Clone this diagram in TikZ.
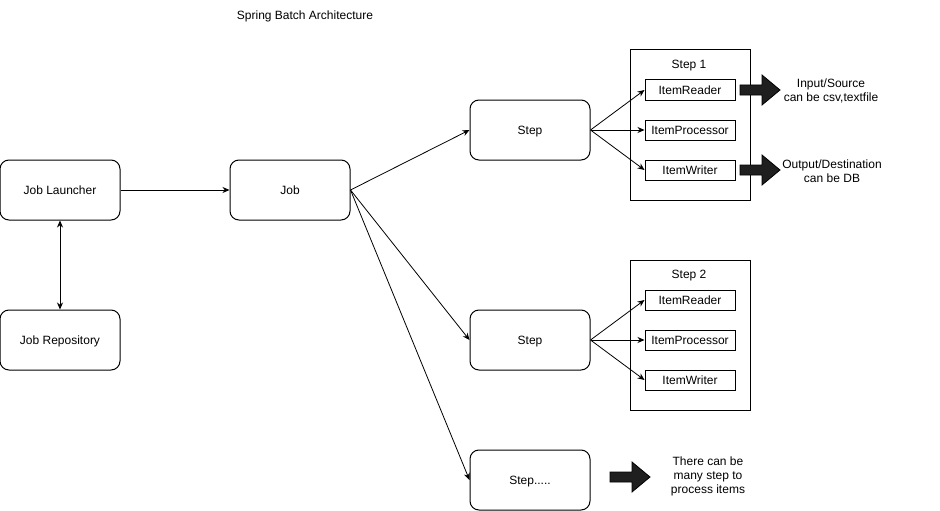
\documentclass[tikz,border=0pt]{standalone}
\usepackage{fontspec}
\setmainfont{Liberation Sans}
\usetikzlibrary{arrows.meta}
\begin{document}
\begin{tikzpicture}[x=1pt,y=-1pt, font=\fontsize{12}{14}\selectfont,
 box/.style={draw, rounded corners=9pt, minimum width=120pt, minimum height=60pt, line width=1pt, text height=9.5pt, text depth=0pt},
 item/.style={draw, minimum width=90pt, minimum height=20pt, inner sep=0pt, line width=1pt, text height=9.5pt, text depth=0pt},
 cont/.style={draw, minimum width=120pt, minimum height=150pt, line width=1pt},
 arr/.style={-{Stealth[length=7pt,width=6pt]}, line width=0.8pt},
 darr/.style={{Stealth[length=7pt,width=6pt]}-{Stealth[length=7pt,width=6pt]}, line width=0.8pt},
 fat/.style={fill=black!88, draw=black, line width=0.8pt},
 lbl/.style={align=center, inner sep=0pt}]
\path[use as bounding box, fill=white] (0,0) rectangle (940,511);

\node[lbl] (title) at (305,16) {Spring Batch Architecture};

\node[box] (launcher) at (60,190) {Job Launcher};
\node[box] (repo) at (60,340) {Job Repository};
\node[box] (job) at (290,190) {Job};
\node[box] (stepA) at (530,130) {Step};
\node[box] (stepB) at (530,340) {Step};
\node[box] (stepC) at (530,480) {Step.....};

\node[cont] (c1) at (690,125) {};
\node[lbl] (c1lbl) at (689,66) {Step 1};
\node[item] (r1) at (690,90) {ItemReader};
\node[item] (p1) at (690,130) {ItemProcessor};
\node[item] (w1) at (690,170) {ItemWriter};

\node[cont] (c2) at (690,335) {};
\node[lbl] (c2lbl) at (689,276) {Step 2};
\node[item] (r2) at (690,300) {ItemReader};
\node[item] (p2) at (690,340) {ItemProcessor};
\node[item] (w2) at (690,380) {ItemWriter};

\draw[arr] (launcher) -- (job);
\draw[darr] (launcher) -- (repo);
\draw[arr] (job.east) -- (stepA.west);
\draw[arr] (job.east) -- (stepB.west);
\draw[arr] (job.east) -- (stepC.west);

\draw[arr] (stepA.east) -- (r1.west);
\draw[arr] (stepA.east) -- (p1.west);
\draw[arr] (stepA.east) -- (w1.west);
\draw[arr] (stepB.east) -- (r2.west);
\draw[arr] (stepB.east) -- (p2.west);
\draw[arr] (stepB.east) -- (w2.west);

\foreach \p in {(740,90),(740,170),(610,477)}{
  \draw[fat,shift={\p}] (0,-5) -- (22,-5) -- (22,-15) -- (40,0) -- (22,15) -- (22,5) -- (0,5) -- cycle;
}

\node[lbl] (in) at (831,91) {Input/Source\\can be csv,textfile};
\node[lbl] (out) at (832,171) {Output/Destination\\can be DB};
\node[lbl] (many) at (708,476) {There can be\\many step to\\process items};
\end{tikzpicture}
\end{document}
